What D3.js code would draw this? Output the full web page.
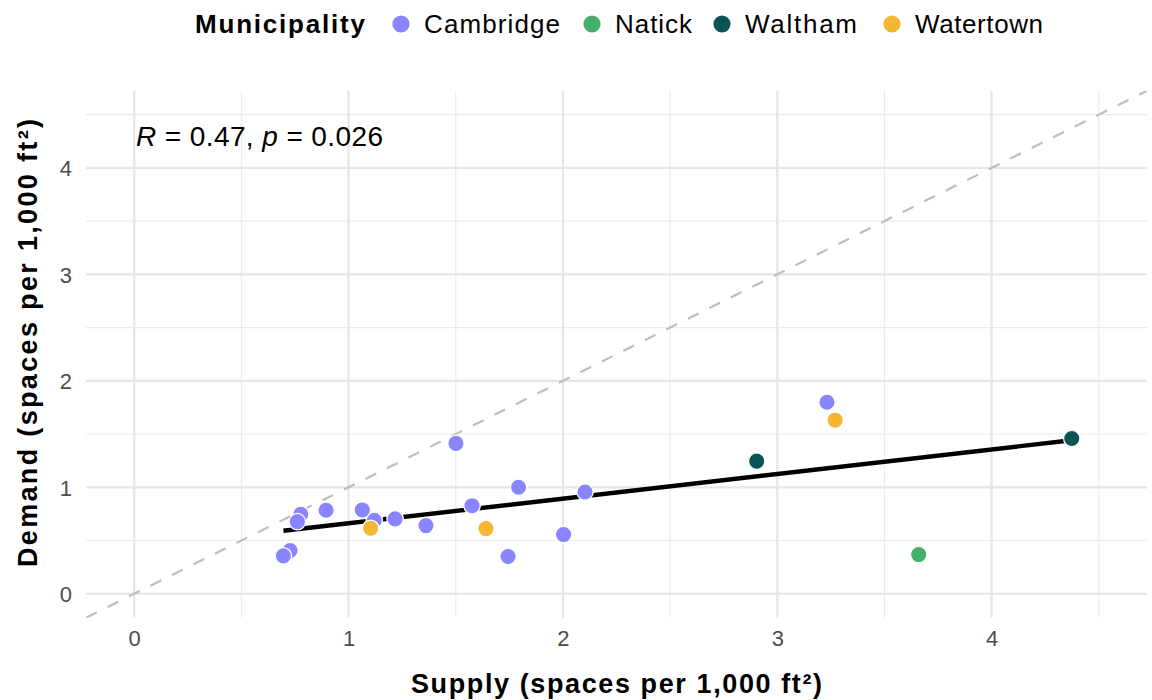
<!DOCTYPE html>
<html>
<head>
<meta charset="utf-8">
<script src="https://cdn.jsdelivr.net/npm/d3@7"></script>
<style>
  html, body { margin: 0; padding: 0; background: #fff; }
  svg text { font-family: "Liberation Sans", Arial, Helvetica, sans-serif; }
</style>
</head>
<body>
<svg id="chart" width="1152" height="700"></svg>
<script>
// Parking supply vs. demand by site (spaces per 1,000 ft²)
const municipalities = ["Cambridge", "Natick", "Waltham", "Watertown"];
const municipalityColors = ["#8885FF", "#45B06A", "#0B5456", "#F5B731"];

const cambridgeSupply = [1.501, 1.793, 2.103, 1.576, 1.361, 1.217, 1.120, 1.064, 0.895, 0.777, 0.761, 0.727, 0.696, 1.744, 2.003, 3.232];
const cambridgeDemand = [1.412, 1.000, 0.956, 0.827, 0.640, 0.703, 0.690, 0.787, 0.784, 0.747, 0.677, 0.406, 0.356, 0.350, 0.556, 1.799];
const natickSupply = [3.660];
const natickDemand = [0.368];
const walthamSupply = [2.904, 4.374];
const walthamDemand = [1.246, 1.458];
const watertownSupply = [1.103, 1.641, 3.270];
const watertownDemand = [0.615, 0.612, 1.630];

const xTicks = [0, 1, 2, 3, 4];
const yTicks = [0, 1, 2, 3, 4];
const minorTicks = [0.5, 1.5, 2.5, 3.5, 4.5];
const axisLimits = [0, 4.5];
const corLabel = { R: "0.47", p: "0.026" };
const legendTitle = "Municipality";
const xTitle = "Supply (spaces per 1,000 ft²)";
const yTitle = "Demand (spaces per 1,000 ft²)";

const seriesSupply = [cambridgeSupply, natickSupply, walthamSupply, watertownSupply];
const seriesDemand = [cambridgeDemand, natickDemand, walthamDemand, watertownDemand];
const points = [];
municipalities.forEach((m, i) => {
  seriesSupply[i].forEach((s, j) => points.push({ municipality: m, supply: s, demand: seriesDemand[i][j] }));
});

const svg = d3.select("#chart");
const panel = { left: 86, right: 1147, top: 90.7, bottom: 617.7 };

// 5% expansion around the shared limits
const span = axisLimits[1] - axisLimits[0];
const dom = [axisLimits[0] - 0.05 * span, axisLimits[1] + 0.05 * span];
const x = d3.scaleLinear().domain(dom).range([panel.left, panel.right]);
const y = d3.scaleLinear().domain(dom).range([panel.bottom, panel.top]);
const color = d3.scaleOrdinal().domain(municipalities).range(municipalityColors);

const clipId = "panel-clip";
svg.append("defs").append("clipPath").attr("id", clipId)
  .append("rect")
  .attr("x", panel.left).attr("y", panel.top)
  .attr("width", panel.right - panel.left).attr("height", panel.bottom - panel.top);

// Grid
const grid = svg.append("g");
grid.selectAll(".vminor").data(minorTicks).join("line")
  .attr("x1", d => x(d)).attr("x2", d => x(d))
  .attr("y1", panel.top).attr("y2", panel.bottom)
  .attr("stroke", "#EBEBEB").attr("stroke-width", 1.1);
grid.selectAll(".hminor").data(minorTicks).join("line")
  .attr("y1", d => y(d)).attr("y2", d => y(d))
  .attr("x1", panel.left).attr("x2", panel.right)
  .attr("stroke", "#EBEBEB").attr("stroke-width", 1.1);
grid.selectAll(".vmajor").data(xTicks).join("line")
  .attr("x1", d => x(d)).attr("x2", d => x(d))
  .attr("y1", panel.top).attr("y2", panel.bottom)
  .attr("stroke", "#E6E6E6").attr("stroke-width", 2.2);
grid.selectAll(".hmajor").data(yTicks).join("line")
  .attr("y1", d => y(d)).attr("y2", d => y(d))
  .attr("x1", panel.left).attr("x2", panel.right)
  .attr("stroke", "#E6E6E6").attr("stroke-width", 2.2);

// Axes (labels only)
const xAxis = d3.axisBottom(x).tickValues(xTicks).tickSize(0).tickPadding(0).tickFormat(d3.format("d"));
const gx = svg.append("g").attr("transform", `translate(0,${panel.bottom + 13})`).call(xAxis);
gx.select(".domain").remove();
gx.selectAll("text").attr("font-size", 22).attr("fill", "#4D4D4D").attr("dy", "0.71em")
  .style("font-family", '"Liberation Sans", Arial, sans-serif');

const yAxis = d3.axisLeft(y).tickValues(yTicks).tickSize(0).tickPadding(0).tickFormat(d3.format("d"));
const gy = svg.append("g").attr("transform", `translate(${panel.left - 14},0)`).call(yAxis);
gy.select(".domain").remove();
gy.selectAll("text").attr("font-size", 22).attr("fill", "#4D4D4D").attr("dy", "0.36em")
  .style("font-family", '"Liberation Sans", Arial, sans-serif');

const plot = svg.append("g").attr("clip-path", `url(#${clipId})`);

// Identity reference line y = x
plot.append("line")
  .attr("x1", x(dom[0])).attr("y1", y(dom[0]))
  .attr("x2", x(dom[1])).attr("y2", y(dom[1]))
  .attr("stroke", "#BEBEBE").attr("stroke-width", 2.2)
  .attr("stroke-dasharray", "12,12");

// Least-squares fit over all sites
const mx = d3.mean(points, d => d.supply);
const my = d3.mean(points, d => d.demand);
const sxy = d3.sum(points, d => (d.supply - mx) * (d.demand - my));
const sxx = d3.sum(points, d => (d.supply - mx) ** 2);
const slope = sxy / sxx;
const intercept = my - slope * mx;
const xr = d3.extent(points, d => d.supply);
plot.append("line")
  .attr("x1", x(xr[0])).attr("y1", y(intercept + slope * xr[0]))
  .attr("x2", x(xr[1])).attr("y2", y(intercept + slope * xr[1]))
  .attr("stroke", "#000").attr("stroke-width", 4.4);

// Points
plot.selectAll("circle.pt").data(points).join("circle")
  .attr("class", "pt")
  .attr("cx", d => x(d.supply)).attr("cy", d => y(d.demand))
  .attr("r", 8.2)
  .attr("fill", d => color(d.municipality))
  .attr("stroke", "#fff").attr("stroke-width", 1.3);

// Correlation label
const cor = svg.append("text")
  .attr("x", 136).attr("y", 146)
  .attr("font-size", 28).attr("fill", "#000")
  .attr("textLength", 247).attr("lengthAdjust", "spacing");
cor.append("tspan").attr("font-style", "italic").text("R");
cor.append("tspan").text(` = ${corLabel.R}, `);
cor.append("tspan").attr("font-style", "italic").text("p");
cor.append("tspan").text(` = ${corLabel.p}`);

// Axis titles
svg.append("text")
  .attr("x", 411).attr("y", 693)
  .attr("font-size", 27).attr("font-weight", "bold")
  .attr("textLength", 411).attr("lengthAdjust", "spacing")
  .text(xTitle);
svg.append("text")
  .attr("transform", "translate(37,567) rotate(-90)")
  .attr("font-size", 27).attr("font-weight", "bold")
  .attr("textLength", 448).attr("lengthAdjust", "spacing")
  .text(yTitle);

// Legend
const legend = svg.append("g");
legend.append("text")
  .attr("x", 195).attr("y", 24).attr("dy", "0.36em")
  .attr("font-size", 26).attr("font-weight", "bold")
  .attr("textLength", 170).attr("lengthAdjust", "spacing")
  .text(legendTitle);
const legendX = [401, 592, 722, 892];
const legendTextWidth = [136, 77, 112, 128];
const items = legend.selectAll("g.item").data(municipalities).join("g")
  .attr("class", "item")
  .attr("transform", (d, i) => `translate(${legendX[i]},24)`);
items.append("circle").attr("r", 8.6).attr("fill", d => color(d));
items.append("text").attr("x", 23).attr("dy", "0.36em")
  .attr("font-size", 26).attr("fill", "#000")
  .attr("textLength", (d, i) => legendTextWidth[i]).attr("lengthAdjust", "spacing")
  .text(d => d);
</script>
</body>
</html>
